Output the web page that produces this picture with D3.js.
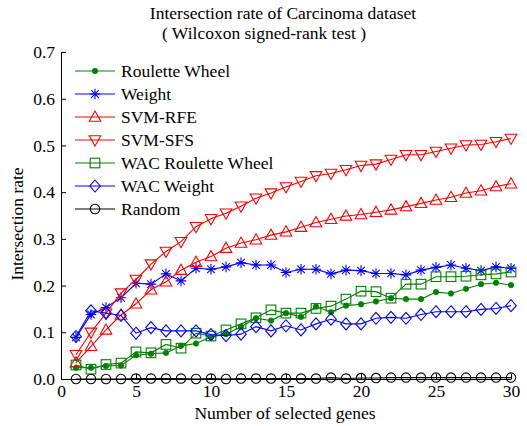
<!DOCTYPE html>
<html>
<head>
<meta charset="utf-8">
<script src="https://cdn.jsdelivr.net/npm/d3@7"></script>
<style>
  html, body { margin: 0; padding: 0; background: #fff; }
  svg { display: block; font-family: "Liberation Serif", "Times New Roman", serif; }
</style>
</head>
<body>
<svg id="chart" width="527" height="426"></svg>
<script>
// Number of selected genes (x)
const genes = d3.range(1, 31);

// Intersection rate per method
const rouletteWheel = [0.024,0.024,0.028,0.029,0.051,0.054,0.056,0.071,0.076,0.090,
  0.096,0.112,0.130,0.125,0.141,0.133,0.155,0.143,0.157,0.160,
  0.166,0.173,0.171,0.171,0.186,0.183,0.193,0.203,0.206,0.201];
const weight = [0.089,0.138,0.153,0.174,0.205,0.203,0.225,0.210,0.237,0.235,
  0.240,0.249,0.244,0.244,0.228,0.235,0.235,0.225,0.233,0.232,
  0.226,0.226,0.223,0.233,0.239,0.244,0.237,0.232,0.240,0.237];
const svmRfe = [0.035,0.070,0.105,0.137,0.161,0.191,0.208,0.233,0.250,0.262,
  0.280,0.291,0.298,0.308,0.315,0.325,0.335,0.342,0.349,0.352,
  0.357,0.362,0.369,0.376,0.383,0.389,0.398,0.403,0.412,0.418];
const svmSfs = [0.052,0.100,0.141,0.184,0.213,0.246,0.273,0.294,0.326,0.343,
  0.355,0.370,0.387,0.398,0.411,0.423,0.435,0.440,0.448,0.457,
  0.460,0.470,0.480,0.480,0.487,0.494,0.501,0.502,0.508,0.515];
const wacRouletteWheel = [0.030,0.021,0.031,0.034,0.058,0.056,0.074,0.066,0.098,0.092,
  0.105,0.118,0.131,0.148,0.141,0.141,0.151,0.156,0.171,0.188,
  0.187,0.173,0.203,0.203,0.219,0.219,0.220,0.223,0.225,0.229];
const wacWeight = [0.091,0.146,0.141,0.136,0.098,0.110,0.103,0.103,0.103,0.095,
  0.093,0.096,0.112,0.103,0.114,0.105,0.118,0.128,0.118,0.118,
  0.130,0.132,0.130,0.138,0.144,0.144,0.144,0.149,0.151,0.157];
const random = [0.000,0.000,0.000,0.000,0.001,0.001,0.001,0.001,0.000,0.001,
  0.000,0.001,0.001,0.001,0.001,0.001,0.001,0.003,0.001,0.002,
  0.002,0.003,0.003,0.003,0.003,0.003,0.003,0.003,0.003,0.003];

const seriesNames = ["Roulette Wheel","Weight","SVM-RFE","SVM-SFS","WAC Roulette Wheel","WAC Weight","Random"];
const seriesValues = [rouletteWheel, weight, svmRfe, svmSfs, wacRouletteWheel, wacWeight, random];

const xTicks = [0,5,10,15,20,25,30];
const yTicks = [0,0.1,0.2,0.3,0.4,0.5,0.6,0.7];

const titleText = "Intersection rate of Carcinoma dataset";
const subtitleText = "( Wilcoxon signed-rank test )";
const xLabel = "Number of selected genes";
const yLabel = "Intersection rate";

// Styling per series
const styles = [
  { color: "#008000", marker: "dot" },
  { color: "#0000ff", marker: "star" },
  { color: "#ff0000", marker: "triUp" },
  { color: "#ff0000", marker: "triDown" },
  { color: "#008000", marker: "square" },
  { color: "#0000ff", marker: "diamond" },
  { color: "#000000", marker: "circle" }
];

const fontSize = 17.5;
const lineWidth = 1.1;
const svg = d3.select("#chart");
const plotLeft = 61, plotRight = 511, plotTop = 52, plotBottom = 379;

const x = d3.scaleLinear().domain([0, 30]).range([plotLeft, plotRight]);
const y = d3.scaleLinear().domain([0, 0.7]).range([plotBottom, plotTop]);

// Marker drawing
function drawMarker(g, type, color) {
  switch (type) {
    case "dot":
      g.append("circle").attr("r", 2.7).attr("fill", color).attr("stroke", color).attr("stroke-width", 0.8);
      break;
    case "circle":
      g.append("circle").attr("r", 4.7).attr("fill", "none").attr("stroke", color).attr("stroke-width", lineWidth);
      break;
    case "square":
      g.append("rect").attr("x", -4.8).attr("y", -4.8).attr("width", 9.6).attr("height", 9.6)
        .attr("fill", "none").attr("stroke", color).attr("stroke-width", lineWidth);
      break;
    case "diamond":
      g.append("path").attr("d", "M0,-6L5.3,0L0,6L-5.3,0Z")
        .attr("fill", "none").attr("stroke", color).attr("stroke-width", lineWidth);
      break;
    case "triUp":
      g.append("path").attr("d", "M0,-6L5.8,4.2L-5.8,4.2Z")
        .attr("fill", "none").attr("stroke", color).attr("stroke-width", lineWidth);
      break;
    case "triDown":
      g.append("path").attr("d", "M0,6L5.8,-4.2L-5.8,-4.2Z")
        .attr("fill", "none").attr("stroke", color).attr("stroke-width", lineWidth);
      break;
    case "star":
      g.append("path").attr("d", "M0,-5.3V5.3M-5.3,0H5.3M-3.8,-3.8L3.8,3.8M-3.8,3.8L3.8,-3.8")
        .attr("fill", "none").attr("stroke", color).attr("stroke-width", lineWidth);
      break;
  }
}

// Axes (ticks pointing into the plot)
const xAxis = d3.axisBottom(x).tickValues(xTicks).tickSizeInner(-5).tickSizeOuter(0).tickPadding(5)
  .tickFormat(d3.format("d"));
const yAxis = d3.axisLeft(y).tickValues(yTicks).tickSizeInner(-5).tickSizeOuter(0).tickPadding(6)
  .tickFormat(d3.format(".1f"));

const gx = svg.append("g").attr("transform", `translate(0,${plotBottom})`).call(xAxis);
const gy = svg.append("g").attr("transform", `translate(${plotLeft},0)`).call(yAxis);
[gx, gy].forEach(g => {
  g.selectAll("text").attr("font-size", fontSize).attr("fill", "#000")
    .style("font-family", "'Liberation Serif', 'Times New Roman', serif");
  g.selectAll("line, path").attr("stroke", "#000").attr("stroke-width", 1);
});
gx.selectAll("text").attr("dy", "0.75em");

// Lines and markers
const line = d3.line().x((d, i) => x(genes[i])).y(d => y(d));
seriesValues.forEach((vals, si) => {
  const st = styles[si];
  const g = svg.append("g");
  g.append("path").datum(vals).attr("d", line)
    .attr("fill", "none").attr("stroke", st.color).attr("stroke-width", lineWidth);
  vals.forEach((v, i) => {
    const m = g.append("g").attr("transform", `translate(${x(genes[i])},${y(v)})`);
    drawMarker(m, st.marker, st.color);
  });
});

// Legend
const legend = svg.append("g");
seriesNames.forEach((name, i) => {
  const ly = 71 + i * 23;
  const st = styles[i];
  legend.append("line").attr("x1", 75).attr("x2", 115).attr("y1", ly).attr("y2", ly)
    .attr("stroke", st.color).attr("stroke-width", lineWidth);
  const m = legend.append("g").attr("transform", `translate(95,${ly})`);
  drawMarker(m, st.marker, st.color);
  legend.append("text").attr("x", 121).attr("y", ly).attr("dy", "0.35em")
    .attr("font-size", fontSize).attr("fill", "#000").text(name);
});

// Titles
svg.append("text").attr("x", 283).attr("y", 19).attr("text-anchor", "middle")
  .attr("font-size", fontSize).attr("fill", "#000").text(titleText);
svg.append("text").attr("x", 264).attr("y", 39).attr("text-anchor", "middle")
  .attr("font-size", fontSize).attr("fill", "#000").text(subtitleText);
svg.append("text").attr("x", 285).attr("y", 419).attr("text-anchor", "middle")
  .attr("font-size", fontSize).attr("fill", "#000").text(xLabel);
svg.append("text").attr("transform", "translate(23,224) rotate(-90)").attr("text-anchor", "middle")
  .attr("font-size", fontSize).attr("fill", "#000").text(yLabel);
</script>
</body>
</html>
